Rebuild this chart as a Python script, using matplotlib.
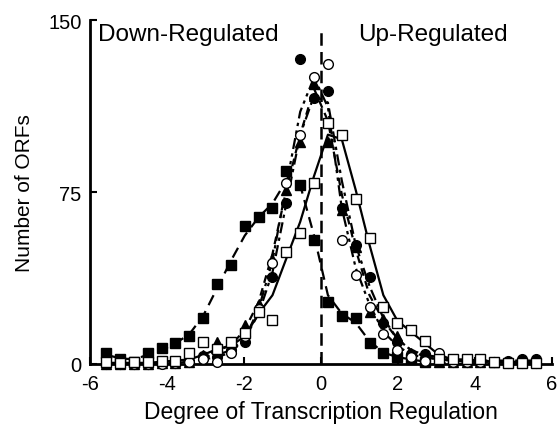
import numpy as np
import matplotlib
matplotlib.use("Agg")
import matplotlib.pyplot as plt

plt.rcParams['font.family'] = ['Liberation Sans', 'DejaVu Sans']
plt.rcParams['axes.unicode_minus'] = False

# bin centres (degree of regulation)
bins = [-5.58, -5.22, -4.86, -4.50, -4.14, -3.78, -3.42, -3.06, -2.70, -2.34,
        -1.98, -1.62, -1.26, -0.90, -0.54, -0.18, 0.18, 0.54, 0.90, 1.26,
        1.62, 1.98, 2.34, 2.70, 3.06, 3.42, 3.78, 4.14, 4.50, 4.86, 5.22, 5.58]

# filled squares, long dashes
sq_fill = [5, 2, 1, 5, 7, 9, 12, 20, 35, 43, 60, 64, 68, 84, 78, 54,
           27, 21, 20, 9, 5, 3, 2, 1, np.nan, np.nan, np.nan, np.nan, np.nan, np.nan, np.nan, np.nan]
sq_fill_fit = [4, 2.5, 2, 4, 6, 9, 13, 21, 33, 45, 56, 64, 70, 80, 78, 56,
               30, 22, 18, 10, 5, 3, 2, 1, 0.5, 0, 0, 0, 0, 0, 0, 0]

# filled circles, dash-dot
ci_fill = [0, 0, 0, 0, 0.5, 0.5, 1, 3.5, 3, 6, 9.6, 24, 38, 70, 133, 116,
           119, 68, 52, 38, 18, 9.6, 4.4, 4.4, 2, 1, 1, 1, 1, 1.5, 2, 2]
ci_fill_fit = [0, 0, 0, 0, 0.5, 0.5, 1, 3, 4, 6, 11, 22, 40, 70, 100, 117,
               114, 80, 52, 34, 20, 11, 6, 4, 3, 2, 1.5, 1.5, 1.5, 1.5, 1.5, 1.5]

# open circles, dash-dot-dot
ci_open = [0.5, 0, 0, 0, 0, 0.5, 1, 2, 1, 5, 12, 24, 44, 79, 100, 125,
           131, 54, 39, 25, 13, 6, 3, 1.3, 5, 1, 1, 1, 1, 0.5, 0.5, 0.5]
ci_open_fit = [0.5, 0, 0, 0, 0, 0.5, 1, 2, 3, 5, 11, 24, 45, 78, 110, 125,
               112, 68, 42, 26, 14, 8, 4, 3, 2, 1.5, 1, 1, 1, 0.5, 0.5, 0.5]

# filled triangles, short dashes
tri = [0, 0, 0, 0, 0.5, 0.5, 1, 4, 9.6, 7, 17, 26, 46, 76, 97, 122,
       97, 67, 51, 22.6, 19.6, 12, 5, 2, 1, 1, 1, 1, 1, 1.5, 1, 1]
tri_fit = [0, 0, 0, 0, 0.5, 0.5, 1, 3, 6, 8, 15, 27, 48, 76, 100, 120,
           106, 74, 50, 30, 19, 11, 6, 3, 2, 1.5, 1, 1, 1, 1, 1, 1]

# open squares, solid
sq_open = [1, 0.5, 1, 1, 1.5, 1.5, 5, 9.5, 6.5, 9.5, 13.5, 22.6, 19, 49, 57, 79,
           105, 100, 72, 55, 25, 18, 15, 10, 2, 2, 2, 2, 1, 0.5, 0.5, 0.5]
sq_open_fit = [0.5, 0.5, 0.5, 0.5, 1, 1.5, 2, 4, 6.5, 8, 12, 22, 30, 46, 62, 82,
               100, 98, 76, 52, 30, 19, 14, 9, 4, 2, 2, 1.5, 1, 0.5, 0.5, 0.5]

fig = plt.figure(figsize=(5.6, 4.27), dpi=100)
ax = fig.add_axes([0.1607, 0.1452, 0.825, 0.8056])

lw = 1.6
ax.plot(bins, sq_fill_fit, color='k', lw=lw, dashes=(5, 3), zorder=2)
ax.plot(bins, ci_fill_fit, color='k', lw=lw, dashes=(5, 2, 1.5, 2), zorder=2)
ax.plot(bins, ci_open_fit, color='k', lw=lw, dashes=(5, 2, 1.5, 2, 1.5, 2), zorder=2)
ax.plot(bins, tri_fit, color='k', lw=lw, dashes=(3.5, 2.5), zorder=2)
ax.plot(bins, sq_open_fit, color='k', lw=lw, zorder=2)

ms = 7
ax.plot(bins, sq_fill, 's', ms=ms, mfc='k', mec='k', zorder=3, clip_on=False)
ax.plot(bins, tri, '^', ms=ms + 0.5, mfc='k', mec='k', zorder=3, clip_on=False)
ax.plot(bins, ci_fill, 'o', ms=ms, mfc='k', mec='k', zorder=3, clip_on=False)
ax.plot(bins, ci_open, 'o', ms=ms, mfc='white', mec='k', mew=1.0, zorder=4, clip_on=False)
ax.plot(bins, sq_open, 's', ms=ms, mfc='white', mec='k', mew=1.0, zorder=4, clip_on=False)

ax.axvline(0, ymin=0, ymax=0.97, color='k', lw=1.8, dashes=(5, 2.5), zorder=1)

ax.set_xlim(-6, 6)
ax.set_ylim(0, 150)
ax.set_xticks([-6, -4, -2, 0, 2, 4, 6])
ax.set_yticks([0, 75, 150])
ax.tick_params(direction='in', length=5, width=1.5, labelsize=14.5)
ax.tick_params(axis='x', pad=7)
ax.tick_params(axis='y', pad=6)
for s in ['top', 'right']:
    ax.spines[s].set_visible(False)
for s in ['left', 'bottom']:
    ax.spines[s].set_linewidth(2)

ax.text(-5.8, 148.5, 'Down-Regulated', fontsize=17.5, ha='left', va='top')
ax.text(0.96, 148.5, 'Up-Regulated', fontsize=17.5, ha='left', va='top')

ax.set_xlabel('Degree of Transcription Regulation', fontsize=16.5, labelpad=5)
ax.set_ylabel('Number of ORFs', fontsize=15, labelpad=10)

fig.savefig('out.png', dpi=100)
